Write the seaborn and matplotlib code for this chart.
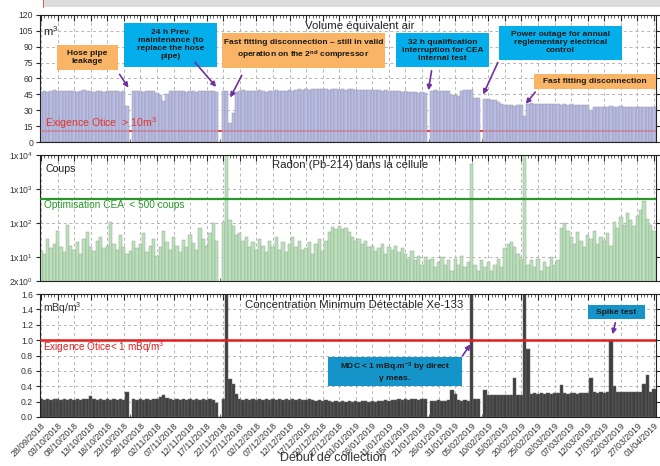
import numpy as np
import pandas as pd
import matplotlib
matplotlib.use("Agg")
import matplotlib.pyplot as plt
import seaborn as sns
from matplotlib.patches import Rectangle, FancyArrowPatch
from matplotlib.ticker import MultipleLocator, NullLocator, FixedLocator

sns.set_style("ticks")
plt.rcParams["font.family"] = ["Liberation Sans", "DejaVu Sans"]
plt.rcParams["mathtext.fontset"] = "custom"
plt.rcParams["mathtext.rm"] = "Liberation Sans"
plt.rcParams["mathtext.it"] = "Liberation Sans:italic"
plt.rcParams["mathtext.bf"] = "Liberation Sans:bold"

# ---- data: one value per collection day, starting 28/09/2018 ----
date_labels = [
    "28/09/2018", "03/10/2018", "08/10/2018", "13/10/2018", "18/10/2018", "23/10/2018",
    "28/10/2018", "02/11/2018", "07/11/2018", "12/11/2018", "17/11/2018", "22/11/2018",
    "27/11/2018", "02/12/2018", "07/12/2018", "12/12/2018", "17/12/2018", "22/12/2018",
    "27/12/2018", "01/01/2019", "06/01/2019", "11/01/2019", "16/01/2019", "21/01/2019",
    "26/01/2019", "31/01/2019", "05/02/2019", "10/02/2019", "15/02/2019", "20/02/2019",
    "25/02/2019", "02/03/2019", "07/03/2019", "12/03/2019", "17/03/2019", "22/03/2019",
    "27/03/2019", "01/04/2019",
]

# air volume equivalent per sample (m3)
volume_m3 = [
    47.5, 48.0, 47.2, 48.5, 49.0, 48.2, 47.8, 48.4, 47.9, 48.6,
    48.1, 47.6, 48.3, 48.8, 47.9, 48.2, 47.4, 48.0, 48.5, 47.7,
    48.2, 48.6, 47.9, 48.1, 47.5, 48.3, 34.0, 0.0, 47.8, 48.4,
    48.0, 47.6, 48.2, 48.5, 47.9, 46.5, 44.0, 39.0, 45.5, 47.8,
    48.3, 47.9, 48.1, 48.6, 47.7, 48.2, 48.0, 47.5, 48.4, 47.9,
    48.1, 48.5, 47.8, 47.2, 0.0, 48.6, 48.2, 18.0, 27.0, 47.5,
    48.2, 48.7, 48.0, 48.4, 47.8, 48.3, 48.9, 48.1, 47.7, 48.5,
    48.2, 48.8, 48.0, 48.6, 48.3, 48.9, 48.4, 49.5, 50.2, 49.6,
    50.0, 49.4, 49.8, 50.3, 49.7, 49.9, 50.1, 49.5, 49.8, 50.2,
    49.6, 49.9, 49.3, 49.7, 50.0, 49.4, 49.1, 49.6, 49.0, 48.8,
    49.2, 48.7, 49.0, 48.5, 48.9, 48.3, 48.6, 47.9, 48.2, 47.5,
    47.8, 47.2, 46.8, 47.4, 46.5, 47.0, 46.2, 0.0, 48.3, 48.7,
    48.1, 48.5, 47.9, 48.2, 44.5, 44.0, 43.6, 48.5, 49.2, 48.8,
    49.4, 42.0, 41.5, 0.0, 40.5, 40.2, 39.8, 39.5, 38.0, 35.5,
    35.0, 34.5, 34.8, 34.3, 34.6, 35.0, 25.0, 36.0, 36.4, 35.8,
    36.2, 35.9, 36.3, 35.7, 36.0, 35.6, 35.9, 35.4, 35.8, 35.3,
    35.5, 35.1, 35.4, 35.0, 35.2, 34.8, 30.0, 33.4, 33.0, 33.5,
    33.5, 33.2, 33.7, 33.4, 33.0, 33.6, 33.3, 32.9, 33.5, 33.1,
    33.4, 32.8, 33.2, 32.9, 33.3, 32.7,
]

# radon (Pb-214) counts in the cell
radon_counts = [
    15, 12, 35, 18, 25, 60, 20, 14, 90, 22,
    16, 28, 12, 35, 55, 20, 15, 30, 40, 18,
    22, 110, 25, 16, 45, 20, 12, 15, 30, 18,
    25, 50, 14, 22, 35, 11, 20, 60, 28, 16,
    40, 22, 14, 32, 20, 45, 26, 16, 70, 35,
    22, 50, 100, 30, 0, 110, 15000, 120, 80, 45,
    50, 30, 38, 20, 28, 16, 35, 22, 14, 30,
    20, 40, 16, 28, 14, 24, 38, 20, 30, 16,
    18, 28, 12, 24, 35, 15, 30, 55, 75, 65,
    80, 65, 70, 55, 40, 30, 35, 25, 30, 20,
    22, 15, 18, 25, 12, 20, 16, 22, 14, 18,
    12, 9, 15, 8, 11, 6, 10, 8, 9, 5,
    7, 10, 6, 8, 4, 9, 6, 11, 5, 7,
    5600, 6, 4, 8, 5, 7, 4, 6, 9, 5,
    18, 25, 28, 20, 12, 9, 15000, 6, 8, 5,
    9, 4, 7, 5, 10, 6, 8, 70, 100, 60,
    40, 25, 55, 30, 20, 45, 35, 60, 25, 40,
    30, 50, 22, 110, 70, 150, 90, 200, 120, 80,
    160, 250, 460, 130, 90, 60,
]

# minimum detectable concentration of Xe-133 (mBq/m3)
mdc_xe133 = [
    0.23, 0.22, 0.23, 0.22, 0.23, 0.23, 0.22, 0.23, 0.22, 0.23,
    0.22, 0.23, 0.22, 0.23, 0.23, 0.27, 0.23, 0.22, 0.23, 0.22,
    0.23, 0.22, 0.23, 0.22, 0.23, 0.22, 0.32, 0.0, 0.23, 0.22,
    0.23, 0.22, 0.23, 0.22, 0.23, 0.24, 0.26, 0.28, 0.25, 0.23,
    0.22, 0.23, 0.22, 0.23, 0.22, 0.23, 0.22, 0.23, 0.22, 0.23,
    0.22, 0.23, 0.22, 0.18, 0.0, 0.24, 1.90, 0.50, 0.43, 0.30,
    0.23, 0.22, 0.23, 0.22, 0.23, 0.22, 0.23, 0.22, 0.23, 0.22,
    0.23, 0.22, 0.23, 0.22, 0.23, 0.22, 0.23, 0.22, 0.23, 0.22,
    0.22, 0.23, 0.22, 0.21, 0.22, 0.21, 0.22, 0.21, 0.20, 0.21,
    0.20, 0.21, 0.20, 0.21, 0.20, 0.21, 0.20, 0.21, 0.21, 0.20,
    0.21, 0.20, 0.21, 0.21, 0.22, 0.21, 0.22, 0.22, 0.23, 0.22,
    0.23, 0.22, 0.23, 0.23, 0.22, 0.23, 0.23, 0.0, 0.21, 0.21,
    0.22, 0.21, 0.21, 0.22, 0.35, 0.30, 0.22, 0.21, 0.22, 0.21,
    1.90, 0.23, 0.23, 0.0, 0.35, 0.29, 0.28, 0.29, 0.29, 0.28,
    0.29, 0.29, 0.28, 0.51, 0.29, 0.29, 1.90, 0.88, 0.30, 0.31,
    0.30, 0.31, 0.30, 0.31, 0.30, 0.31, 0.31, 0.42, 0.31, 0.30,
    0.31, 0.31, 0.30, 0.31, 0.31, 0.31, 0.51, 0.32, 0.31, 0.32,
    0.31, 0.32, 0.99, 0.40, 0.32, 0.32, 0.33, 0.32, 0.33, 0.32,
    0.33, 0.32, 0.43, 0.55, 0.33, 0.36,
]

days = np.arange(len(volume_m3))
tick_days = np.arange(0, 5 * len(date_labels), 5)

# ---- figure layout (pixel based) ----
W, H = 660, 466
fig = plt.figure(figsize=(W / 100, H / 100), dpi=100)


def frac(x, y):
    return x / W, 1 - y / H


ax1 = fig.add_axes([40 / W, 1 - 142 / H, 616 / W, 127 / H])
ax2 = fig.add_axes([40 / W, 1 - 281 / H, 616 / W, 126 / H])
ax3 = fig.add_axes([40 / W, 1 - 417 / H, 616 / W, 123 / H])


def draw_bars(ax, values, face, edge, alpha=1.0):
    df = pd.DataFrame({"day": days, "value": values})
    sns.barplot(data=df, x="day", y="value", native_scale=True, width=1.0,
                color=face, saturation=1, errorbar=None, ax=ax,
                edgecolor=edge, linewidth=0.35, alpha=alpha, zorder=2)
    ax.set_xlabel("")
    ax.set_ylabel("")


def style_axis(ax, show_dates=False):
    ax.set_xlim(-0.3, 185.6)
    ax.xaxis.set_major_locator(FixedLocator(tick_days))
    ax.xaxis.set_minor_locator(MultipleLocator(1))
    ax.set_axisbelow(True)
    ax.grid(True, which="major", linestyle=(0, (3, 3)), color="#b4b4b4", lw=0.7)
    ax.tick_params(axis="x", which="major", direction="in", top=True, bottom=True,
                   length=4, width=0.8)
    ax.tick_params(axis="x", which="minor", direction="in", top=True, bottom=True,
                   length=2, width=0.5)
    ax.tick_params(axis="y", which="major", direction="out", left=True, right=True,
                   length=3, width=0.8, labelsize=6.2, labelcolor="#333333", pad=2)
    for s in ax.spines.values():
        s.set_color("#222222")
        s.set_linewidth(0.8)
    if show_dates:
        ax.set_xticklabels(date_labels, rotation=45, ha="right",
                           rotation_mode="anchor", fontsize=6.3, color="#333333")
        ax.tick_params(axis="x", which="major", pad=3)
    else:
        ax.set_xticklabels([])


# Panel 1: air volume (limit line shows full red in gaps, tinted through bars)
ax1.axhline(10, color="#e8383a", lw=1.3, zorder=1)
draw_bars(ax1, volume_m3, "#b8bbe4", "#9a9aaa")
ax1.axhline(10, color="#e8383a", lw=1.3, alpha=0.35, zorder=3)
ax1.set_ylim(0, 120)
ax1.set_yticks(np.arange(0, 121, 15))
style_axis(ax1)
ax1.yaxis.set_minor_locator(NullLocator())

# Panel 2: radon counts (log scale)
draw_bars(ax2, radon_counts, "#b9e2b9", "#9aa59a")
ax2.set_yscale("log")
ax2.set_ylim(2, 1e4)
ax2.set_yticks([2, 10, 100, 1000, 10000])
ax2.set_yticklabels([r"2x10$^0$", r"1x10$^1$", r"1x10$^2$", r"1x10$^3$", r"1x10$^4$"])
ax2.yaxis.set_minor_locator(NullLocator())
ax2.axhline(500, color="#2a962a", lw=1.6, zorder=3)
style_axis(ax2)

# Panel 3: Xe-133 MDC
draw_bars(ax3, mdc_xe133, "#404040", "#6a6a6a")
ax3.set_ylim(0, 1.6)
ax3.set_yticks(np.arange(0, 1.61, 0.2))
ax3.set_yticklabels([f"{v:.1f}" for v in np.arange(0, 1.61, 0.2)])
ax3.yaxis.set_minor_locator(NullLocator())
ax3.axhline(1.0, color="#e01f1f", lw=1.8, zorder=3)
style_axis(ax3, show_dates=True)

# ---- panel texts ----
def label(x, y, s, **kw):
    kw.setdefault("fontsize", 8)
    kw.setdefault("va", "center")
    fig.text(*frac(x, y), s, zorder=9, **kw)


label(360, 26, "Volume équivalent air", ha="center", fontsize=8.2, color="#222222")
label(43, 31, r"m$^3$", ha="left", fontsize=8, color="#222222")
label(45, 123, r"Exigence Otice  > 10m$^3$", ha="left", fontsize=7.6, color="#e3342c")

label(350, 165, "Radon (Pb-214) dans la cellule", ha="center", fontsize=8.2, color="#222222")
label(46, 169, "Coups", ha="left", fontsize=7.6, color="#222222")
label(44, 205, "Optimisation CEA  < 500 coups", ha="left", fontsize=7.3, color="#2a962a")

label(354, 305, "Concentration Minimum Détectable Xe-133", ha="center", fontsize=8.2, color="#222222")
label(43, 308, r"mBq/m$^3$", ha="left", fontsize=7.5, color="#333333")
label(43, 347, r"Exigence Otice< 1 mBq/m$^3$", ha="left", fontsize=7.2, color="#e01f1f")

label(333, 458, "Début de collection", ha="center", fontsize=9, color="#333333")

# ---- annotation boxes and arrows ----
ORANGE = "#fab466"
CYAN = "#04aeea"
BLUE = "#1494c9"
PURPLE = "#7030a0"


def note_box(x0, y0, x1, y1, text, face, fontsize=6.0):
    fig.add_artist(Rectangle(frac(x0, y1), (x1 - x0) / W, (y1 - y0) / H,
                             transform=fig.transFigure, facecolor=face,
                             edgecolor="none", zorder=10))
    fig.text(*frac((x0 + x1) / 2, (y0 + y1) / 2), text, ha="center", va="center",
             fontsize=fontsize, fontweight="bold", color="#1a1a1a", zorder=11,
             linespacing=1.2)


def note_arrow(x0, y0, x1, y1):
    fig.add_artist(FancyArrowPatch(frac(x0, y0), frac(x1, y1), transform=fig.transFigure,
                                   arrowstyle="-|>", mutation_scale=7, color=PURPLE,
                                   lw=1.2, zorder=12))


note_box(57, 45, 118, 70, "Hose pipe\nleakage", ORANGE)
note_arrow(118, 72, 130, 90)

note_box(124, 23, 217, 67, "24 h Prev.\nmaintenance (to\nreplace the hose\npipe)", CYAN)
note_arrow(193, 60, 218, 89)

note_box(222, 33, 385, 68,
         "Fast fitting disconnection \u2013 still in valid\noperation on the 2$^{\\mathbf{nd}}$ compressor",
         ORANGE)
note_arrow(243, 73, 229, 100)

note_box(396, 33, 489, 67, "32 h qualification\ninterruption for CEA\ninternal test", CYAN)
note_arrow(432, 68, 428, 93)

note_box(499, 26, 622, 60, "Power outage for annual\nreglementary electrical\ncontrol", CYAN)
note_arrow(499, 60, 482, 97)

note_box(534, 74, 656, 89, "Fast fitting disconnection", ORANGE)
note_arrow(537, 90, 524, 106)

note_box(328, 357, 462, 386, "MDC < 1 mBq.m$^{\\mathbf{-3}}$ by direct\n\u03b3 meas.", BLUE)
note_arrow(461, 358, 472, 342)

note_box(588, 305, 645, 319, "Spike test", BLUE)
note_arrow(616, 320, 612, 337)

# header band at the top of the sheet
fig.add_artist(Rectangle(frac(44, 7), (W - 44) / W, 7 / H, transform=fig.transFigure,
                         facecolor="#dcdcdc", edgecolor="none", zorder=0))
fig.add_artist(Rectangle(frac(43.5, 8), 1 / W, 8 / H, transform=fig.transFigure,
                         facecolor="#e06060", edgecolor="none", zorder=1))

fig.savefig("out.png", dpi=100)
